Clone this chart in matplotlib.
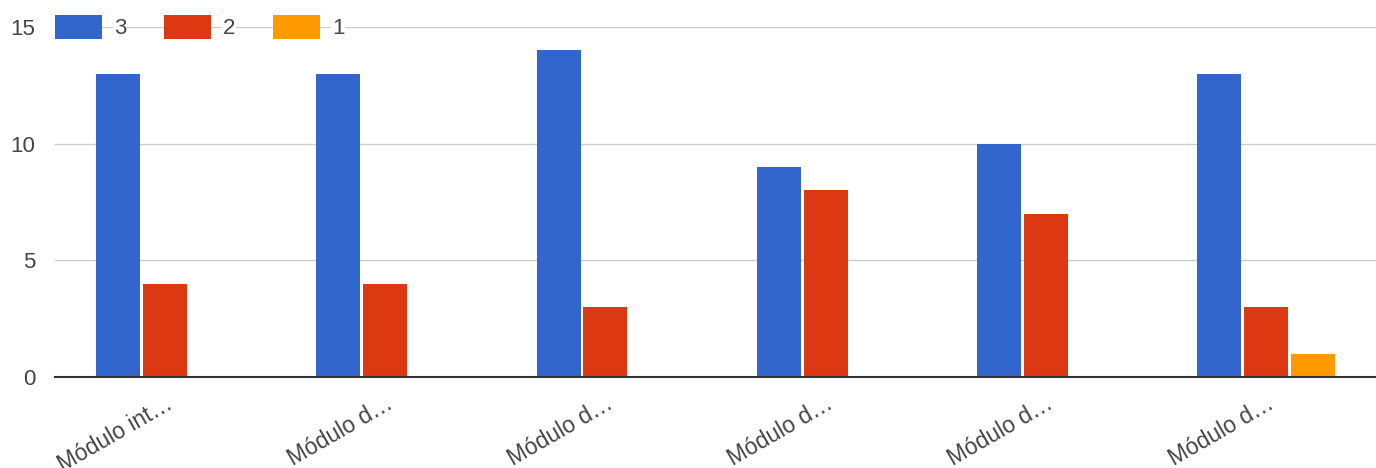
import numpy as np
import matplotlib.pyplot as plt

plt.rcParams['font.family'] = ['Liberation Sans', 'DejaVu Sans']

categories = ['Módulo int…', 'Módulo d…', 'Módulo d…', 'Módulo d…', 'Módulo d…', 'Módulo d…']
series_names = ['3', '2', '1']
values_3 = [13, 13, 14, 9, 10, 13]
values_2 = [4, 4, 3, 8, 7, 3]
values_1 = [0, 0, 0, 0, 0, 1]
colors = ['#3366cc', '#dc3912', '#ff9900']

text_color = '#444444'

fig = plt.figure(figsize=(13.76, 4.68), dpi=100)
ax = fig.add_axes([55 / 1376, 1 - 377 / 468, 1 - 55 / 1376, 350 / 468])

x = np.arange(len(categories))
width = 0.2
step = 0.213
for i, (vals, name, col) in enumerate(zip([values_3, values_2, values_1], series_names, colors)):
    ax.bar(x + (i - 1) * step, vals, width, color=col, label=name, zorder=3)

ax.set_xlim(-0.5, len(categories) - 0.5)
ax.set_ylim(0, 15)
ax.set_yticks([0, 5, 10, 15])
ax.yaxis.grid(True, color='#cccccc', linewidth=1, zorder=0)
ax.set_axisbelow(True)

for s in ['top', 'right', 'left']:
    ax.spines[s].set_visible(False)
ax.spines['bottom'].set_color('#333333')
ax.spines['bottom'].set_linewidth(1.5)
ax.spines['bottom'].set_zorder(4)

ax.tick_params(axis='both', length=0, colors=text_color)
ax.tick_params(axis='y', pad=14, labelsize=16)
ax.set_xticks(x)
ax.set_xticklabels(categories, rotation=30, ha='right', rotation_mode='anchor', fontsize=16.5)
ax.tick_params(axis='x', pad=11)

leg = ax.legend(loc='center left', bbox_to_anchor=(0, 1), ncol=3, frameon=False,
                fontsize=16, handlelength=2.1, handleheight=1.3, handletextpad=0.55,
                columnspacing=1.7, borderpad=0, borderaxespad=0)
for t in leg.get_texts():
    t.set_color(text_color)
    t.set_bbox(dict(facecolor='white', edgecolor='none', pad=0.5))

fig.savefig('out.png', dpi=100)
